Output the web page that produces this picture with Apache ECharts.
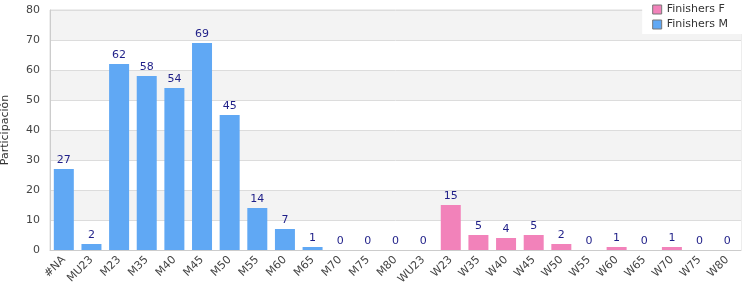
<!DOCTYPE html>
<html>
<head>
<meta charset="utf-8">
<script src="https://cdn.jsdelivr.net/npm/echarts@6/dist/echarts.min.js"></script>
<style>
  html, body { margin: 0; padding: 0; background: #fff; }
  #chart { width: 750px; height: 300px; }
</style>
</head>
<body>
<div id="chart"></div>
<script>
// categorias y valores
const categories = ['#NA', 'MU23', 'M23', 'M35', 'M40', 'M45', 'M50', 'M55', 'M60', 'M65', 'M70', 'M75', 'M80', 'WU23',
  'W23', 'W35', 'W40', 'W45', 'W50', 'W55', 'W60', 'W65', 'W70', 'W75', 'W80'];
const finishersM = [27, 2, 62, 58, 54, 69, 45, 14, 7, 1, 0, 0, 0, 0,
  '-', '-', '-', '-', '-', '-', '-', '-', '-', '-', '-'];
const finishersF = ['-', '-', '-', '-', '-', '-', '-', '-', '-', '-', '-', '-', '-', '-',
  15, 5, 4, 5, 2, 0, 1, 0, 1, 0, 0];
const yTicks = { min: 0, max: 80, interval: 10 };

const font = 'DejaVu Sans';
const labelStyle = {
  show: true,
  position: 'top',
  distance: 3,
  color: '#1f1f88',
  fontFamily: font,
  fontSize: 11
};

const chart = echarts.init(document.getElementById('chart'));

chart.setOption({
  animation: false,
  textStyle: { fontFamily: font },
  grid: {
    left: 50, right: 9, top: 10, bottom: 50,
    outerBoundsMode: 'none',
    containLabel: false,
    show: true, borderColor: '#dcdcdc', borderWidth: 1, backgroundColor: 'transparent'
  },
  legend: {
    orient: 'vertical',
    right: 8, top: 0,
    backgroundColor: '#fff',
    padding: [4, 14, 4, 10],
    itemGap: 4,
    itemWidth: 9, itemHeight: 9,
    icon: 'rect',
    textStyle: { fontFamily: font, fontSize: 11, color: '#333' },
    itemStyle: { borderColor: '#777', borderWidth: 1 },
    data: ['Finishers F', 'Finishers M']
  },
  xAxis: {
    type: 'category',
    data: categories,
    axisLine: { lineStyle: { color: '#ccc' } },
    axisTick: { show: false },
    axisLabel: {
      rotate: 45, interval: 0, color: '#444', fontFamily: font, fontSize: 11, margin: 8
    }
  },
  yAxis: {
    type: 'value',
    min: yTicks.min, max: yTicks.max, interval: yTicks.interval,
    name: 'Participación',
    nameLocation: 'middle',
    nameGap: 39,
    nameTextStyle: { color: '#333', fontFamily: font, fontSize: 11 },
    axisLine: { show: true, lineStyle: { color: '#ccc' } },
    axisLabel: { color: '#444', fontFamily: font, fontSize: 11, margin: 10 },
    splitLine: { lineStyle: { color: '#dcdcdc' } },
    splitArea: { show: true, areaStyle: { color: ['#ffffff', '#f3f3f3'] } }
  },
  series: [
    {
      name: 'Finishers F',
      type: 'bar',
      stack: 'total',
      barWidth: 20,
      data: finishersF,
      itemStyle: { color: '#f282ba' },
      label: labelStyle
    },
    {
      name: 'Finishers M',
      type: 'bar',
      stack: 'total',
      barWidth: 20,
      data: finishersM,
      itemStyle: { color: '#60a8f4' },
      label: labelStyle
    }
  ]
});
</script>
</body>
</html>
